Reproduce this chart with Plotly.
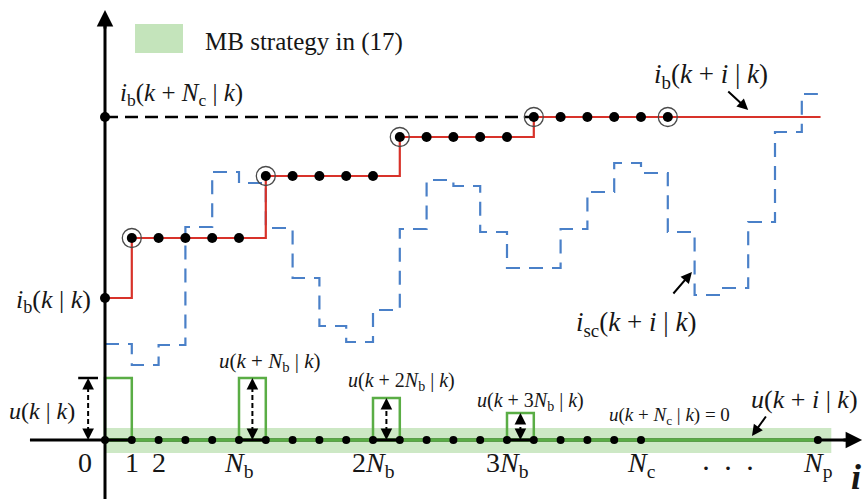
import plotly.graph_objects as go

# ---------------- data ----------------
# prediction steps shown on the i axis (0 .. N_c) and position of N_p
sample_steps = list(range(0, 21))
Np_pos = 26.6

# battery current i_b(k+i|k): held constant, moved every N_b = 5 steps
ib_change = [0, 1, 6, 11, 16]
ib_level = [14.2, 20.2, 26.4, 30.3, 32.3]
ib_marked = list(range(1, 22))
ib_circled = [1, 6, 11, 16, 21]
ib_terminal = 32.3           # i_b(k+N_c|k)

# supercapacitor current i_sc(k+i|k), one value per step
isc = [9.6, 7.5, 9.5, 21.3, 26.8, 25.7, 21.2, 16.2, 11.4, 9.8,
       13.0, 21.1, 26.0, 25.4, 20.8, 17.2, 17.2, 21.1, 24.8, 27.7,
       26.7, 20.8, 14.5, 15.2, 21.8, 30.8, 34.6]

# control moves u(k+i|k): nonzero only at 0, N_b, 2N_b, 3N_b
u_at = [0, 5, 10, 15]
u_val = [6.2, 6.2, 4.2, 2.7]

tick_pos = [0, 1, 2, 5, 10, 15, 20, Np_pos]
tick_text = ["0", "1", "2", "<i>N</i><sub>b</sub>", "2<i>N</i><sub>b</sub>",
             "3<i>N</i><sub>b</sub>", "<i>N</i><sub>c</sub>", "<i>N</i><sub>p</sub>"]

# ---------------- styles ----------------
RED = "#d8322a"
BLUE = "#4a80c8"
GREEN = "#5aad45"
BAND = "#c4e4bb"
SERIF = "Liberation Serif"
INK = "#161616"


def ib_at(i):
    lvl = ib_level[0]
    for c, v in zip(ib_change, ib_level):
        if i >= c:
            lvl = v
    return lvl


fig = go.Figure()

# MB strategy band along the i axis
fig.add_shape(type="rect", xref="x", yref="y", x0=0, x1=Np_pos + 0.5, y0=-1.3, y1=1.2,
              fillcolor=BAND, opacity=0.85, line_width=0, layer="below")

# horizontal axis line
fig.add_trace(go.Scatter(x=[-2.8, 27.8], y=[0, 0], mode="lines",
                         line=dict(color="black", width=3), hoverinfo="skip"))

# u(k+i|k) along the axis (green), black under each move
fig.add_trace(go.Scatter(x=[0, Np_pos], y=[0, 0], mode="lines",
                         line=dict(color=GREEN, width=3.5), hoverinfo="skip"))
for a in u_at:
    fig.add_trace(go.Scatter(x=[a, a + 1], y=[0, 0], mode="lines",
                             line=dict(color="black", width=3), hoverinfo="skip"))

# control move pulses
for a, v in zip(u_at, u_val):
    fig.add_trace(go.Scatter(x=[a, a, a + 1, a + 1], y=[0, v, v, 0], mode="lines",
                             line=dict(color=GREEN, width=2.5), hoverinfo="skip"))

# supercapacitor current (dashed staircase)
fig.add_trace(go.Scatter(x=list(range(len(isc))) + [Np_pos], y=isc + [isc[-1]],
                         mode="lines", line=dict(color=BLUE, width=2.2, dash="14px,9px", shape="hv"),
                         hoverinfo="skip"))

# terminal reference i_b(k+N_c|k)
fig.add_trace(go.Scatter(x=[0, ib_change[-1]], y=[ib_terminal, ib_terminal], mode="lines",
                         line=dict(color="black", width=2.5, dash="13px,7px"), hoverinfo="skip"))

# battery current staircase
fig.add_trace(go.Scatter(x=ib_change + [Np_pos + 0.1], y=ib_level + [ib_level[-1]],
                         mode="lines", line=dict(color=RED, width=2.2, shape="hv"),
                         hoverinfo="skip"))

# circled points where i_b is updated
fig.add_trace(go.Scatter(x=ib_circled, y=[ib_at(i) for i in ib_circled], mode="markers",
                         marker=dict(symbol="circle-open", size=19, color="#4a4a4a",
                                     line=dict(color="#4a4a4a", width=1.3)),
                         hoverinfo="skip"))
# i_b sample points
fig.add_trace(go.Scatter(x=ib_marked, y=[ib_at(i) for i in ib_marked], mode="markers",
                         marker=dict(color="black", size=10), hoverinfo="skip"))
fig.add_trace(go.Scatter(x=[0, 0], y=[ib_level[0], ib_terminal], mode="markers",
                         marker=dict(color="black", size=10), hoverinfo="skip"))

# sample points on the i axis
fig.add_trace(go.Scatter(x=sample_steps + [Np_pos], y=[0] * (len(sample_steps) + 1),
                         mode="markers", marker=dict(color="black", size=8), hoverinfo="skip"))

# vertical axis line
fig.add_trace(go.Scatter(x=[0, 0], y=[-5.9, 41.5], mode="lines",
                         line=dict(color="black", width=3), hoverinfo="skip"))

# dashed double arrows showing the move sizes
arrow_x = [-0.63] + [a + 0.5 for a in u_at[1:]]
for ax_, v in zip(arrow_x, u_val):
    fig.add_trace(go.Scatter(x=[ax_, ax_], y=[0.8, v - 0.8], mode="lines",
                             line=dict(color="black", width=2, dash="5px,3px"), hoverinfo="skip"))
fig.add_trace(go.Scatter(x=[-1.0, -0.26], y=[u_val[0], u_val[0]], mode="lines",
                         line=dict(color="black", width=2.5), hoverinfo="skip"))

ann = []
for ax_, v in zip(arrow_x, u_val):
    for tip, tail in ((v, v - 0.6), (0, 0.6)):
        ann.append(dict(x=ax_, y=tip, ax=ax_, ay=tail, xref="x", yref="y", axref="x", ayref="y",
                        showarrow=True, arrowhead=2, arrowwidth=1.6, arrowsize=1.45,
                        arrowcolor="black", text="", standoff=0))

# axis arrowheads
ann.append(dict(x=0, y=43.0, ax=0, ay=41.0, xref="x", yref="y", axref="x", ayref="y",
                showarrow=True, arrowhead=2, arrowwidth=3, arrowsize=1.1,
                arrowcolor="black", text="", standoff=0))
ann.append(dict(x=28.25, y=0, ax=27.5, ay=0, xref="x", yref="y", axref="x", ayref="y",
                showarrow=True, arrowhead=2, arrowwidth=3, arrowsize=1.1,
                arrowcolor="black", text="", standoff=0))

# pointer arrows for the curve labels
for (x0, y0, x1, y1) in [(23.2, 35.0, 24.0, 33.0), (21.16, 14.5, 21.9, 16.8), (24.7, 2.5, 24.14, 0.4)]:
    ann.append(dict(x=x1, y=y1, ax=x0, ay=y0, xref="x", yref="y", axref="x", ayref="y",
                    showarrow=True, arrowhead=2, arrowwidth=2, arrowsize=1.1,
                    arrowcolor="black", text="", standoff=0))


def label(text, x, y, size, xanchor="center", yanchor="middle"):
    ann.append(dict(x=x, y=y, xref="x", yref="y", text=text, showarrow=False,
                    xanchor=xanchor, yanchor=yanchor,
                    font=dict(family=SERIF, size=size, color=INK)))


label("<i>i</i><sub>b</sub>(<i>k</i> + <i>N</i><sub>c</sub> | <i>k</i>)", 0.5, 34.6, 25, "left")
label("<i>i</i><sub>b</sub>(<i>k</i> + <i>i</i> | <i>k</i>)", 20.4, 36.4, 27, "left")
label("<i>i</i><sub>b</sub>(<i>k</i> | <i>k</i>)", -0.45, 13.9, 26, "right")
label("<i>i</i><sub>sc</sub>(<i>k</i> + <i>i</i> | <i>k</i>)", 17.5, 11.6, 27, "left")
label("<i>u</i>(<i>k</i> | <i>k</i>)", -1.05, 2.9, 24, "right")
label("<i>u</i>(<i>k</i> + <i>N</i><sub>b</sub> | <i>k</i>)", 6.16, 7.8, 21)
label("<i>u</i>(<i>k</i> + 2<i>N</i><sub>b</sub> | <i>k</i>)", 11.08, 5.9, 20)
label("<i>u</i>(<i>k</i> + 3<i>N</i><sub>b</sub> | <i>k</i>)", 15.86, 3.9, 20)
label("<i>u</i>(<i>k</i> + <i>N</i><sub>c</sub> | <i>k</i>) = 0", 21.08, 2.4, 19)
label("<i>u</i>(<i>k</i> + <i>i</i> | <i>k</i>)", 26.1, 4.1, 26)

# legend entry for the band
fig.add_shape(type="rect", xref="x", yref="y", x0=1.12, x1=2.91, y0=38.7, y1=41.6,
              fillcolor=BAND, line_width=0)
label("MB strategy in (17)", 3.66, 39.8, 25, "left")

# i axis tick labels
for p, t in zip(tick_pos, tick_text):
    xs = -20 if t == "0" else 0
    a = dict(x=p, y=-0.5, xref="x", yref="y", text=t, showarrow=False, xanchor="center",
             yanchor="top", xshift=xs, font=dict(family=SERIF, size=28, color=INK))
    ann.append(a)
label("\u00b7\u2009\u2009\u00b7\u2009\u2009\u00b7", 23.25, -2.7, 30)
label("<b><i>i</i></b>", 28.27, -5.85, 36, "right", "bottom")

fig.update_layout(
    width=866, height=499, margin=dict(l=0, r=0, t=0, b=0),
    paper_bgcolor="white", plot_bgcolor="white", showlegend=False,
    font=dict(family=SERIF),
    xaxis=dict(range=[-105 / 26.8, 761 / 26.8], visible=False, fixedrange=True),
    yaxis=dict(range=[-5.9, 44.0], visible=False, fixedrange=True),
    annotations=ann,
)

fig.write_html("out.html")
